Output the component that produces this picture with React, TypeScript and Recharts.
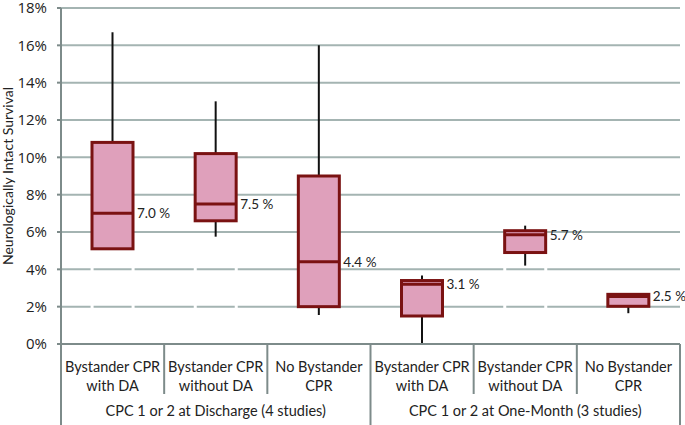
import React from 'react';
import { ComposedChart, Bar, XAxis, YAxis, CartesianGrid, Label } from 'recharts';

// categories and groups
const categories = [
  'Bystander CPR\nwith DA',
  'Bystander CPR\nwithout DA',
  'No Bystander\nCPR',
  'Bystander CPR\nwith DA',
  'Bystander CPR\nwithout DA',
  'No Bystander\nCPR',
];
const groups = [
  'CPC 1 or 2 at Discharge (4 studies)',
  'CPC 1 or 2 at Discharge (4 studies)',
  'CPC 1 or 2 at Discharge (4 studies)',
  'CPC 1 or 2 at One-Month (3 studies)',
  'CPC 1 or 2 at One-Month (3 studies)',
  'CPC 1 or 2 at One-Month (3 studies)',
];

// box plot values (%)
const whiskerLow = [5.05, 5.75, 1.55, 0, 4.2, 1.65];
const q1 = [5.1, 6.6, 2.0, 1.5, 4.9, 2.02];
const median = [7.0, 7.5, 4.4, 3.2, 5.85, 2.55];
const q3 = [10.8, 10.2, 9.0, 3.4, 6.07, 2.66];
const whiskerHigh = [16.7, 13.0, 16.0, 3.67, 6.34, 2.66];
const medianLabels = ['7.0 %', '7.5 %', '4.4 %', '3.1 %', '5.7 %', '2.5 %'];
const yTicks = [0, 2, 4, 6, 8, 10, 12, 14, 16, 18];

const data = categories.map((c, i) => ({
  key: 'c' + i,
  name: c,
  group: groups[i],
  lo: whiskerLow[i],
  q1: q1[i],
  med: median[i],
  q3: q3[i],
  hi: whiskerHigh[i],
  label: medianLabels[i],
}));

const W = 685;
const H = 425;
const MARGIN = { top: 8, right: 5, left: 0, bottom: 0 };
const Y_W = 61;
const X_H1 = 50;
const X_H2 = 31;
const BAND = (W - MARGIN.left - MARGIN.right - Y_W) / categories.length;
const PLOT_H = H - MARGIN.top - X_H1 - X_H2;
const BOX_W = 41;

const FONT = 'Lato, "Open Sans", sans-serif';
const AXIS = '#7d8b8a';
const GRID = '#a4b4b2';
const BOX_FILL = '#dfa0bb';
const BOX_STROKE = '#7a1212';

// the low gridlines (2% and 4%) show small breaks at the box edges of some categories
const brokenLines = [2, 4];
const breakCats = [0, 1, 4];

const GridLine = (props: any) => {
  const { x1, x2, y1, y2 } = props;
  const isBroken = brokenLines.some(v => Math.abs(MARGIN.top + (PLOT_H * (18 - v)) / 18 - y1) < 1);
  let dash: string | undefined;
  if (isBroken) {
    const cuts: number[] = [];
    breakCats.forEach(i => {
      const c = x1 + BAND * (i + 0.5);
      cuts.push(c - BOX_W / 2, c + BOX_W / 2);
    });
    const parts: number[] = [];
    let pos = x1;
    cuts.forEach(cx => {
      parts.push(cx - 1.5 - pos, 3);
      pos = cx + 1.5;
    });
    parts.push(x2 - pos + 10, 0);
    dash = parts.join(' ');
  }
  return <line x1={x1} x2={x2} y1={y1} y2={y2} stroke={GRID} strokeWidth={2} strokeDasharray={dash} />;
};

const BoxShape = (props: any) => {
  const { x, y, width, height, payload } = props;
  const { lo, hi } = payload;
  const py = (v: number) => y + (height * (hi - v)) / (hi - lo);
  const cx = x + width / 2;
  return (
    <g>
      <line x1={cx} x2={cx} y1={py(hi)} y2={py(lo)} stroke="#111" strokeWidth={2} />
      <rect x={x} y={py(payload.q3)} width={width} height={py(payload.q1) - py(payload.q3)}
        fill={BOX_FILL} stroke={BOX_STROKE} strokeWidth={3} />
      <line x1={x} x2={x + width} y1={py(payload.med)} y2={py(payload.med)} stroke={BOX_STROKE} strokeWidth={3} />
      <text x={x + width + 4} y={py(payload.med) + 5} fontSize={13.5} fontFamily={FONT} fill="#222">
        {payload.label}
      </text>
    </g>
  );
};

const CatTick = (props: any) => {
  const { x, y, index } = props;
  const lines = data[index].name.split('\n');
  const top = y - 8;
  const right = x + BAND / 2;
  return (
    <g>
      {index === 0 && <line x1={x - BAND / 2} x2={x - BAND / 2} y1={top} y2={H} stroke={AXIS} strokeWidth={2} />}
      <line x1={right} x2={right} y1={top} y2={(index + 1) % 3 === 0 ? H : top + 50} stroke={AXIS} strokeWidth={2} />
      {lines.map((l: string, i: number) => (
        <text key={i} x={x} y={top + 28 + i * 19} textAnchor="middle" fontSize={14.5} fontFamily={FONT} fill="#222">
          {l}
        </text>
      ))}
    </g>
  );
};

const GroupTick = (props: any) => {
  const { x, y, payload } = props;
  return (
    <text x={x} y={y + 22} textAnchor="middle" fontSize={14.5} fontFamily={FONT} fill="#222">
      {payload.value}
    </text>
  );
};

const YTitle = () => (
  <text
    x={0}
    y={0}
    transform={`translate(13, ${MARGIN.top + PLOT_H / 2}) rotate(-90)`}
    textAnchor="middle"
    fontSize={14}
    fontFamily={FONT}
    fill="#222"
  >
    Neurologically Intact Survival
  </text>
);

export default function App() {
  return (
    <div style={{ position: 'absolute', left: 0, top: 0, background: '#fff' }}>
      <ComposedChart width={W} height={H} data={data} margin={MARGIN}>
        <CartesianGrid vertical={false} horizontal={(p: any) => <GridLine key={p.key} {...p} />} />
        <XAxis
          xAxisId="cat"
          dataKey="key"
          height={X_H1}
          axisLine={{ stroke: AXIS, strokeWidth: 2 }}
          tickLine={false}
          tickSize={0}
          tickMargin={8}
          interval={0}
          tick={(p: any) => <CatTick key={p.index} {...p} />}
        />
        <XAxis
          xAxisId="grp"
          dataKey="group"
          allowDuplicatedCategory={false}
          height={X_H2}
          axisLine={false}
          tickLine={false}
          tickSize={0}
          tickMargin={0}
          interval={0}
          tick={<GroupTick />}
        />
        <YAxis
          domain={[0, 18]}
          ticks={yTicks}
          width={Y_W}
          axisLine={{ stroke: AXIS, strokeWidth: 2 }}
          tickLine={{ stroke: AXIS, strokeWidth: 2 }}
          tickSize={4}
          tickMargin={10}
          tickFormatter={(v: number) => v + '%'}
          tick={{ fontSize: 15, fontFamily: '"Open Sans", sans-serif', fill: '#222' }}
          interval={0}
        >
          <Label content={<YTitle />} />
        </YAxis>
        <Bar
          xAxisId="cat"
          dataKey={(d: any) => [d.lo, d.hi]}
          barSize={BOX_W}
          shape={<BoxShape />}
          isAnimationActive={false}
        />
      </ComposedChart>
    </div>
  );
}
